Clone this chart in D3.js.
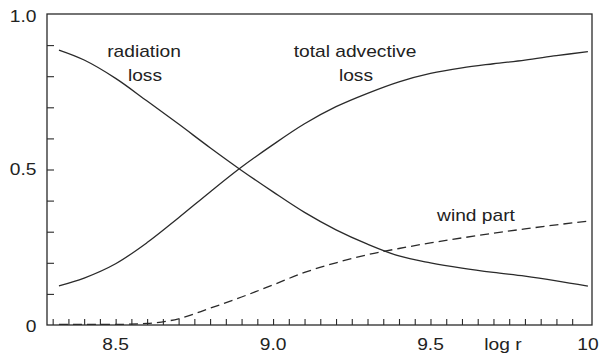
<!DOCTYPE html>
<html>
<head>
<meta charset="utf-8">
<script src="https://cdn.jsdelivr.net/npm/d3@7"></script>
<style>
  html, body { margin: 0; padding: 0; background: #fff; }
  svg { display: block; }
  text { font-family: "Liberation Sans", Arial, Helvetica, sans-serif; fill: #222; }
</style>
</head>
<body>
<svg id="chart" width="602" height="353"></svg>
<script>
// log r sample positions shared by all three curves
const logR = [8.32, 8.4, 8.5, 8.6, 8.7, 8.8, 8.9, 9.0, 9.1, 9.2, 9.3, 9.4, 9.5, 9.6, 9.7, 9.8, 9.9, 10.0];

// fractional losses
const radiationLoss = [0.884, 0.852, 0.793, 0.720, 0.646, 0.570, 0.497, 0.428, 0.362, 0.306, 0.260, 0.222, 0.200, 0.183, 0.169, 0.157, 0.142, 0.125];
const advectiveLoss = [0.126, 0.151, 0.197, 0.265, 0.345, 0.428, 0.508, 0.580, 0.647, 0.702, 0.745, 0.782, 0.809, 0.827, 0.840, 0.852, 0.866, 0.879];
const windPart      = [0.002, 0.002, 0.002, 0.005, 0.020, 0.054, 0.090, 0.129, 0.169, 0.200, 0.226, 0.246, 0.264, 0.280, 0.295, 0.309, 0.322, 0.334];

// axis ticks and labels
const xMinorTicks = [8.3, 8.35, 8.4, 8.45, 8.5, 8.55, 8.6, 8.65, 8.7, 8.75, 8.8, 8.85, 8.9, 8.95, 9.0,
                     9.05, 9.1, 9.15, 9.2, 9.25, 9.3, 9.35, 9.4, 9.45, 9.5, 9.55, 9.6, 9.65, 9.7, 9.75, 9.8, 9.85, 9.9, 9.95];
const xLabelValues = [8.5, 9.0, 9.5, 10.0];
const xLabelTexts = ["8.5", "9.0", "9.5", "10"];
const yMinorTicks = [0.1, 0.2, 0.3, 0.4, 0.5, 0.6, 0.7, 0.8, 0.9];
const yLabelValues = [0, 0.5, 1.0];
const yLabelTexts = ["0", "0.5", "1.0"];

const svg = d3.select("#chart");
const plotL = 47, plotR = 592, plotT = 14, plotB = 325;

const x = d3.scaleLinear().domain([8.282, 10.013]).range([plotL, plotR]);
const y = d3.scaleLinear().domain([0, 1]).range([plotB, plotT]);

const ink = "#2a2a2a";
const SX = 1.2; // glyphs in this figure are set slightly wide

function label(px, py, str, anchor) {
  svg.append("text")
    .attr("transform", `translate(${px},${py}) scale(${SX},1)`)
    .attr("text-anchor", anchor || "middle")
    .attr("font-size", 16)
    .text(str);
}

// inward ticks along bottom
const xAxis = d3.axisBottom(x).tickValues(xMinorTicks).tickSize(-6).tickFormat("");
const gx = svg.append("g").attr("transform", `translate(0,${plotB})`).call(xAxis);
gx.select(".domain").remove();
gx.selectAll(".tick line").attr("stroke", ink).attr("stroke-width", 1.1);

// inward ticks along left
const yAxis = d3.axisLeft(y).tickValues(yMinorTicks).tickSize(-7).tickFormat("");
const gy = svg.append("g").attr("transform", `translate(${plotL},0)`).call(yAxis);
gy.select(".domain").remove();
gy.selectAll(".tick line").attr("stroke", ink).attr("stroke-width", 1.1);

// frame
svg.append("rect")
  .attr("x", plotL).attr("y", plotT)
  .attr("width", plotR - plotL).attr("height", plotB - plotT)
  .attr("fill", "none").attr("stroke", ink).attr("stroke-width", 1.3);

// curves
const line = (vals, curve) => d3.line()
  .x((d, i) => x(logR[i]))
  .y(d => y(d))
  .curve(curve)(vals);

svg.append("path").attr("d", line(radiationLoss, d3.curveCatmullRom.alpha(0.5)))
  .attr("fill", "none").attr("stroke", ink).attr("stroke-width", 1.3);
svg.append("path").attr("d", line(advectiveLoss, d3.curveCatmullRom.alpha(0.5)))
  .attr("fill", "none").attr("stroke", ink).attr("stroke-width", 1.3);
svg.append("path").attr("d", line(windPart, d3.curveMonotoneX))
  .attr("fill", "none").attr("stroke", ink).attr("stroke-width", 1.3)
  .attr("stroke-dasharray", "9,5");

// tick labels
xLabelValues.forEach((v, i) => label(x(v), 350, xLabelTexts[i], "middle"));
label(x(9.73), 350, "log r", "middle");
label(36.5, 22, yLabelTexts[2], "end");
label(36.5, 175, yLabelTexts[1], "end");
label(36.5, 332, yLabelTexts[0], "end");

// curve annotations
label(144, 57, "radiation");
label(145, 81, "loss");
label(355, 57, "total advective");
label(356, 81, "loss");
label(476, 221, "wind part");
</script>
</body>
</html>
